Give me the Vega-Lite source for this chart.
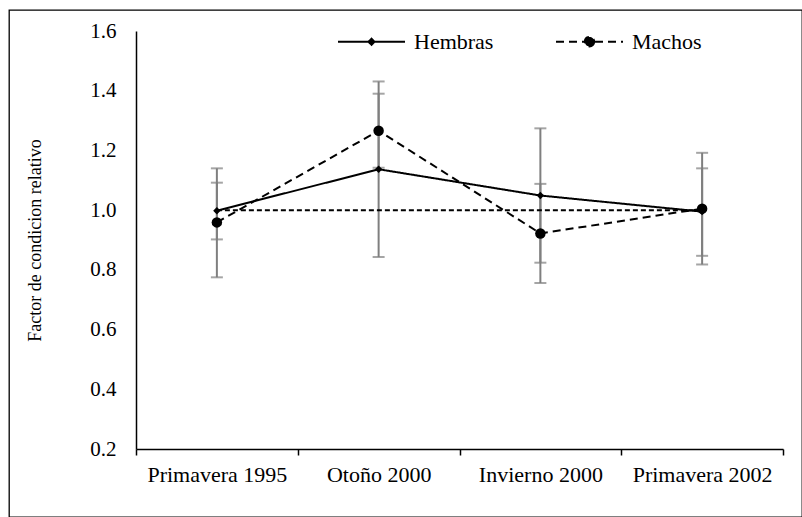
{
  "$schema": "https://vega.github.io/schema/vega-lite/v6.json",
  "autosize": "none",
  "width": 793,
  "height": 507,
  "padding": {"left": 9, "top": 10, "right": 0, "bottom": 0},
  "background": "white",
  "config": {
    "view": {"stroke": "black", "strokeWidth": 1.3, "fill": null},
    "font": "Liberation Serif",
    "axis": {"grid": false, "labelColor": "black", "labelFont": "Liberation Serif", "titleFont": "Liberation Serif", "titleColor": "black", "domainColor": "black"},
    "legend": {"labelFont": "Liberation Serif", "labelColor": "black"}
  },
  "datasets": {
    "datos": [
      {"periodo": "Primavera 1995", "sexo": "Hembras", "valor": 0.998, "inferior": 0.902, "superior": 1.092},
      {"periodo": "Otoño 2000", "sexo": "Hembras", "valor": 1.137, "inferior": 0.843, "superior": 1.431},
      {"periodo": "Invierno 2000", "sexo": "Hembras", "valor": 1.049, "inferior": 0.824, "superior": 1.274},
      {"periodo": "Primavera 2002", "sexo": "Hembras", "valor": 0.995, "inferior": 0.847, "superior": 1.14},
      {"periodo": "Primavera 1995", "sexo": "Machos", "valor": 0.959, "inferior": 0.775, "superior": 1.14},
      {"periodo": "Otoño 2000", "sexo": "Machos", "valor": 1.266, "inferior": 1.142, "superior": 1.39},
      {"periodo": "Invierno 2000", "sexo": "Machos", "valor": 0.922, "inferior": 0.756, "superior": 1.088},
      {"periodo": "Primavera 2002", "sexo": "Machos", "valor": 1.005, "inferior": 0.818, "superior": 1.192}
    ],
    "referencia": [
      {"periodo": "Primavera 1995", "valor": 1.0},
      {"periodo": "Otoño 2000", "valor": 1.0},
      {"periodo": "Invierno 2000", "valor": 1.0},
      {"periodo": "Primavera 2002", "valor": 1.0}
    ]
  },
  "encoding": {
    "x": {
      "field": "periodo",
      "type": "nominal",
      "sort": ["Primavera 1995", "Otoño 2000", "Invierno 2000", "Primavera 2002"],
      "scale": {"type": "band", "paddingInner": 0, "paddingOuter": 0, "range": [127, 774]},
      "bandPosition": 0.5,
      "axis": {
        "title": null,
        "offset": -68,
        "labelAngle": 0,
        "labelFontSize": 22,
        "labelPadding": 9,
        "tickBand": "extent",
        "tickSize": 6,
        "tickColor": "black",
        "tickWidth": 1.5,
        "domainWidth": 1.5
      }
    }
  },
  "layer": [
    {
      "data": {"name": "datos"},
      "mark": {"type": "rule", "color": "#7f7f7f", "strokeWidth": 2},
      "encoding": {
        "y": {
          "field": "inferior",
          "type": "quantitative",
          "scale": {"domain": [0.2, 1.6], "nice": false, "zero": false, "range": [439, 21]},
          "title": "Factor de condicion relativo",
          "axis": {
            "offset": -127,
            "values": [0.2, 0.4, 0.6, 0.8, 1.0, 1.2, 1.4, 1.6],
            "format": ".1f",
            "ticks": false,
            "tickSize": 0,
            "labelPadding": 20,
            "labelFontSize": 21,
            "domainWidth": 1.5,
            "titleFontSize": 18,
            "titleFontWeight": "normal",
            "titleAngle": -90,
            "titleAlign": "center",
            "titleBaseline": "middle",
            "titleX": -101,
            "titleY": 230
          }
        },
        "y2": {"field": "superior"}
      }
    },
    {
      "data": {"name": "datos"},
      "mark": {"type": "tick", "color": "#7f7f7f", "thickness": 2, "size": 12, "orient": "horizontal"},
      "encoding": {
        "y": {"field": "inferior", "type": "quantitative", "title": "Factor de condicion relativo"}
      }
    },
    {
      "data": {"name": "datos"},
      "mark": {"type": "tick", "color": "#7f7f7f", "thickness": 2, "size": 12, "orient": "horizontal"},
      "encoding": {
        "y": {"field": "superior", "type": "quantitative", "title": "Factor de condicion relativo"}
      }
    },
    {
      "data": {"name": "referencia"},
      "mark": {"type": "line", "color": "black", "strokeWidth": 2, "strokeDash": [5, 3]},
      "encoding": {
        "y": {"field": "valor", "type": "quantitative", "title": "Factor de condicion relativo"}
      }
    },
    {
      "data": {"name": "datos"},
      "mark": {"type": "line", "color": "black", "strokeWidth": 2},
      "encoding": {
        "y": {"field": "valor", "type": "quantitative", "title": "Factor de condicion relativo"},
        "strokeDash": {
          "field": "sexo",
          "type": "nominal",
          "scale": {"domain": ["Hembras", "Machos"], "range": [[1, 0], [8, 5]]},
          "legend": {
            "orient": "none",
            "legendX": 328,
            "legendY": -3,
            "direction": "horizontal",
            "title": null,
            "symbolType": "stroke",
            "symbolSize": 4489,
            "symbolStrokeWidth": 2,
            "symbolStrokeColor": "black",
            "symbolFillColor": "black",
            "labelFontSize": 22,
            "labelOffset": 8,
            "columnPadding": 58,
            "encode": {
              "symbols": {
                "update": {
                  "shape": {"signal": "datum.value === 'Hembras' ? 'M-1,0L1,0M-0.09,0L0,-0.09L0.09,0L0,0.09Z' : 'M-1,0L1,0M0.14,0A0.14,0.14,0,1,1,-0.14,0A0.14,0.14,0,1,1,0.14,0Z'"},
                  "fill": {"value": "black"},
                  "stroke": {"value": "black"},
                  "strokeWidth": {"value": 2}
                }
              }
            }
          }
        }
      }
    },
    {
      "data": {"name": "datos"},
      "mark": {"type": "point", "filled": true, "color": "black", "opacity": 1},
      "encoding": {
        "y": {"field": "valor", "type": "quantitative", "title": "Factor de condicion relativo"},
        "shape": {
          "field": "sexo",
          "type": "nominal",
          "scale": {"range": ["diamond", "circle"]},
          "legend": null
        },
        "size": {"condition": {"test": "datum.sexo === 'Hembras'", "value": 55}, "value": 110}
      }
    }
  ]
}
